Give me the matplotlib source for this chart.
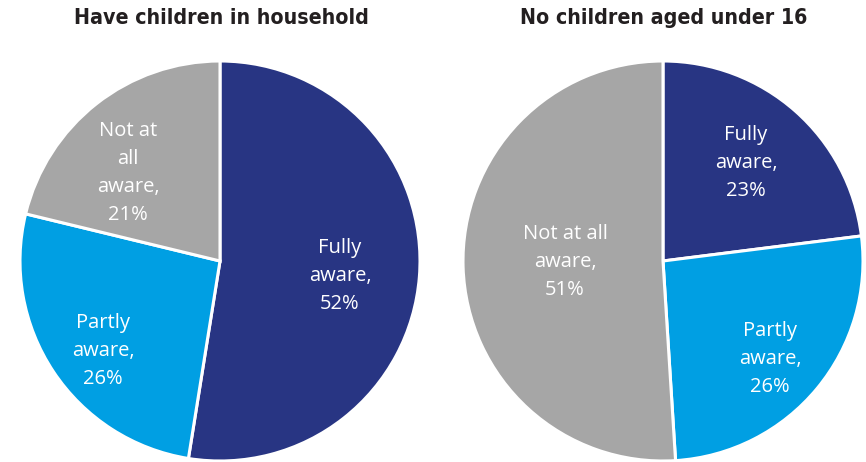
import matplotlib.pyplot as plt

titles = ['Have children in household', 'No children aged under 16']
labels = ['Fully\naware,', 'Partly\naware,', 'Not at\nall\naware,']
labels_right = ['Fully\naware,', 'Partly\naware,', 'Not at all\naware,']
left_values = [52, 26, 21]
right_values = [23, 26, 51]
colors = ['#283583', '#009FE3', '#A6A6A6']

# label spots, as fractions of the radius
left_spots = [(0.60, -0.075), (-0.585, -0.45), (-0.46, 0.44)]
right_spots = [(0.415, 0.49), (0.535, -0.49), (-0.49, -0.005)]

W, H = 866, 462
fig = plt.figure(figsize=(W / 100, H / 100), dpi=100)


def draw_pie(left_px, values, names, spots, title):
    ax = fig.add_axes([left_px / W, 1 / H, 400 / W, 400 / H])
    ax.pie(values, colors=colors, startangle=90, counterclock=False,
           wedgeprops=dict(edgecolor='white', linewidth=2.2))
    ax.set_xlim(-1.0, 1.0)
    ax.set_ylim(-1.0, 1.0)
    ax.set_aspect('equal')
    for name, v, (x, y) in zip(names, values, spots):
        ax.text(x, y, f'{name}\n{v}%', ha='center', va='center', color='white',
                fontsize=14.5, family='Open Sans', linespacing=1.55)
    fig.text((left_px + 201) / W, 1 - 18 / H, title, ha='center', va='center',
             fontsize=15.3, fontweight='bold', fontstretch='condensed',
             family='DejaVu Sans', color='#231F20')


draw_pie(20, left_values, labels, left_spots, titles[0])
draw_pie(463, right_values, labels_right, right_spots, titles[1])

fig.savefig('out.png', dpi=100)
